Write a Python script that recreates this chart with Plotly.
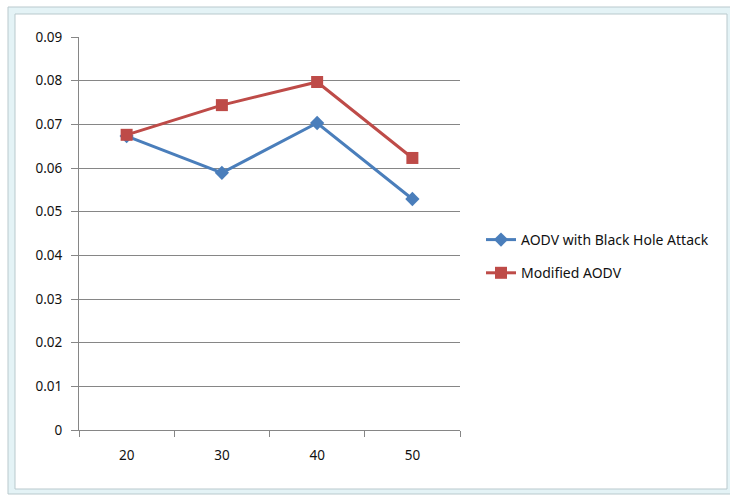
import plotly.graph_objects as go

# Number of nodes on the x axis and the measured values per protocol
categories = ["20", "30", "40", "50"]
aodv_black_hole = [0.0673, 0.0589, 0.0703, 0.0529]
modified_aodv = [0.0676, 0.0744, 0.0797, 0.0623]
y_ticks = [0, 0.01, 0.02, 0.03, 0.04, 0.05, 0.06, 0.07, 0.08, 0.09]
y_tick_text = ["0", "0.01", "0.02", "0.03", "0.04", "0.05", "0.06", "0.07", "0.08", "0.09"]

W, H = 730, 495
L, R, T, B = 79, 270, 37, 65
plot_w = W - L - R
plot_h = H - T - B


def px_x(x):
    return (x - L) / plot_w


def px_y(y):
    return (H - B - y) / plot_h


tick_font = dict(family="Noto Sans, Open Sans, sans-serif", size=13.5, color="#111111")
legend_font = dict(family="Noto Sans, Open Sans, sans-serif", size=14, color="#111111")

fig = go.Figure()
fig.add_trace(go.Scatter(
    x=categories, y=aodv_black_hole, mode="lines+markers",
    name="AODV with Black Hole Attack", legendgroup="a",
    line=dict(color="#4a7ebb", width=3),
    marker=dict(symbol="diamond", size=11, color="#4a7ebb"),
))
fig.add_trace(go.Scatter(
    x=categories, y=modified_aodv, mode="lines+markers",
    name="Modified AODV", legendgroup="b",
    line=dict(color="#be4b48", width=3),
    marker=dict(symbol="square", size=12, color="#be4b48"),
))

# Window-style frame around the chart
fig.add_shape(type="rect", xref="paper", yref="paper",
              x0=px_x(8), x1=px_x(740), y0=px_y(494), y1=px_y(7),
              fillcolor="#e4f3f6", line=dict(color="#b9c9cd", width=1), layer="below")
fig.add_shape(type="rect", xref="paper", yref="paper",
              x0=px_x(15), x1=px_x(727), y0=px_y(489), y1=px_y(14),
              fillcolor="white", line=dict(color="#b9c9cd", width=1), layer="below")

fig.update_layout(
    width=W, height=H,
    margin=dict(l=L, r=R, t=T, b=B),
    paper_bgcolor="white", plot_bgcolor="rgba(0,0,0,0)",
    font=tick_font,
    showlegend=True,
    legend=dict(x=px_x(481), y=px_y(224), xanchor="left", yanchor="top",
                traceorder="grouped", tracegroupgap=12,
                bgcolor="rgba(0,0,0,0)", font=legend_font, itemwidth=30),
    xaxis=dict(type="category", tickson="boundaries", showgrid=False,
               showline=True, linecolor="#868686", linewidth=1,
               ticks="outside", ticklen=6, tickcolor="#868686",
               ticklabelstandoff=13, range=[-0.5, 3.5], tickfont=tick_font),
    yaxis=dict(range=[0, 0.09], tickvals=y_ticks, ticktext=y_tick_text,
               showgrid=True, gridcolor="#868686", gridwidth=1,
               showline=True, linecolor="#868686", linewidth=1,
               ticks="outside", ticklen=7, tickcolor="#868686",
               ticklabelstandoff=6, zeroline=False, tickfont=tick_font),
)

fig.write_html("out.html")
